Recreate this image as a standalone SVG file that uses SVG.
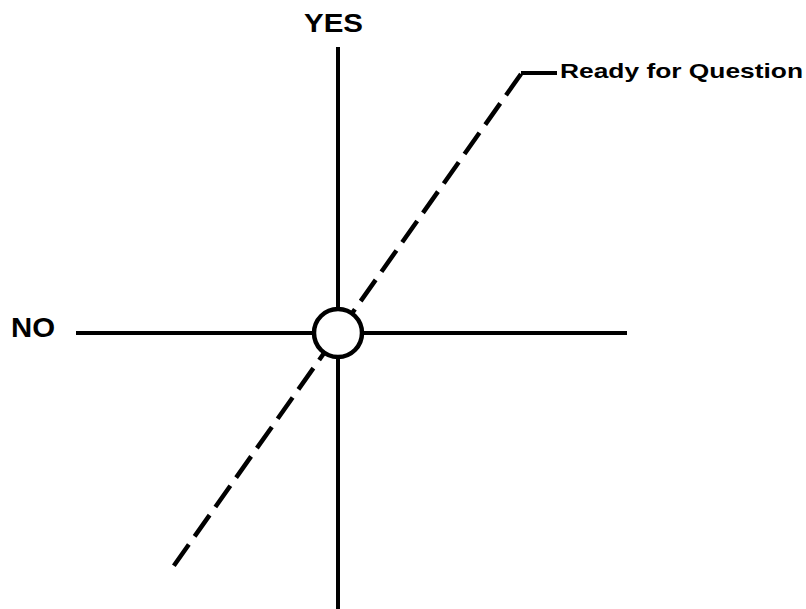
<svg xmlns="http://www.w3.org/2000/svg" width="806" height="609" viewBox="0 0 806 609">
<style>
.ax{stroke:#000;stroke-width:4;fill:none}
.dash{stroke:#000;stroke-width:4.5;fill:none;stroke-dasharray:26 10}
.lbl{font-family:"Liberation Sans",Arial,sans-serif;font-weight:bold;fill:#000}
</style>
<rect width="806" height="609" fill="#fff"/>
<g id="connectors">
<line class="ax" x1="338" y1="47" x2="338" y2="609"/>
<line class="ax" x1="76" y1="333" x2="627" y2="333"/>
<line class="dash" x1="521" y1="74" x2="173" y2="567"/>
<line class="ax" x1="521" y1="73" x2="557" y2="73"/>
</g>
<g id="origin">
<circle cx="338" cy="333" r="24" fill="#fff" stroke="#000" stroke-width="4.5"/>
</g>
<g id="label-yes">
<text class="lbl" x="304" y="32" font-size="26" textLength="59" lengthAdjust="spacingAndGlyphs">YES</text>
</g>
<g id="label-no">
<text class="lbl" x="11" y="337" font-size="28" textLength="44" lengthAdjust="spacingAndGlyphs">NO</text>
</g>
<g id="label-ready">
<text class="lbl" x="560" y="78" font-size="21" textLength="243" lengthAdjust="spacingAndGlyphs">Ready for Question</text>
</g>
</svg>
